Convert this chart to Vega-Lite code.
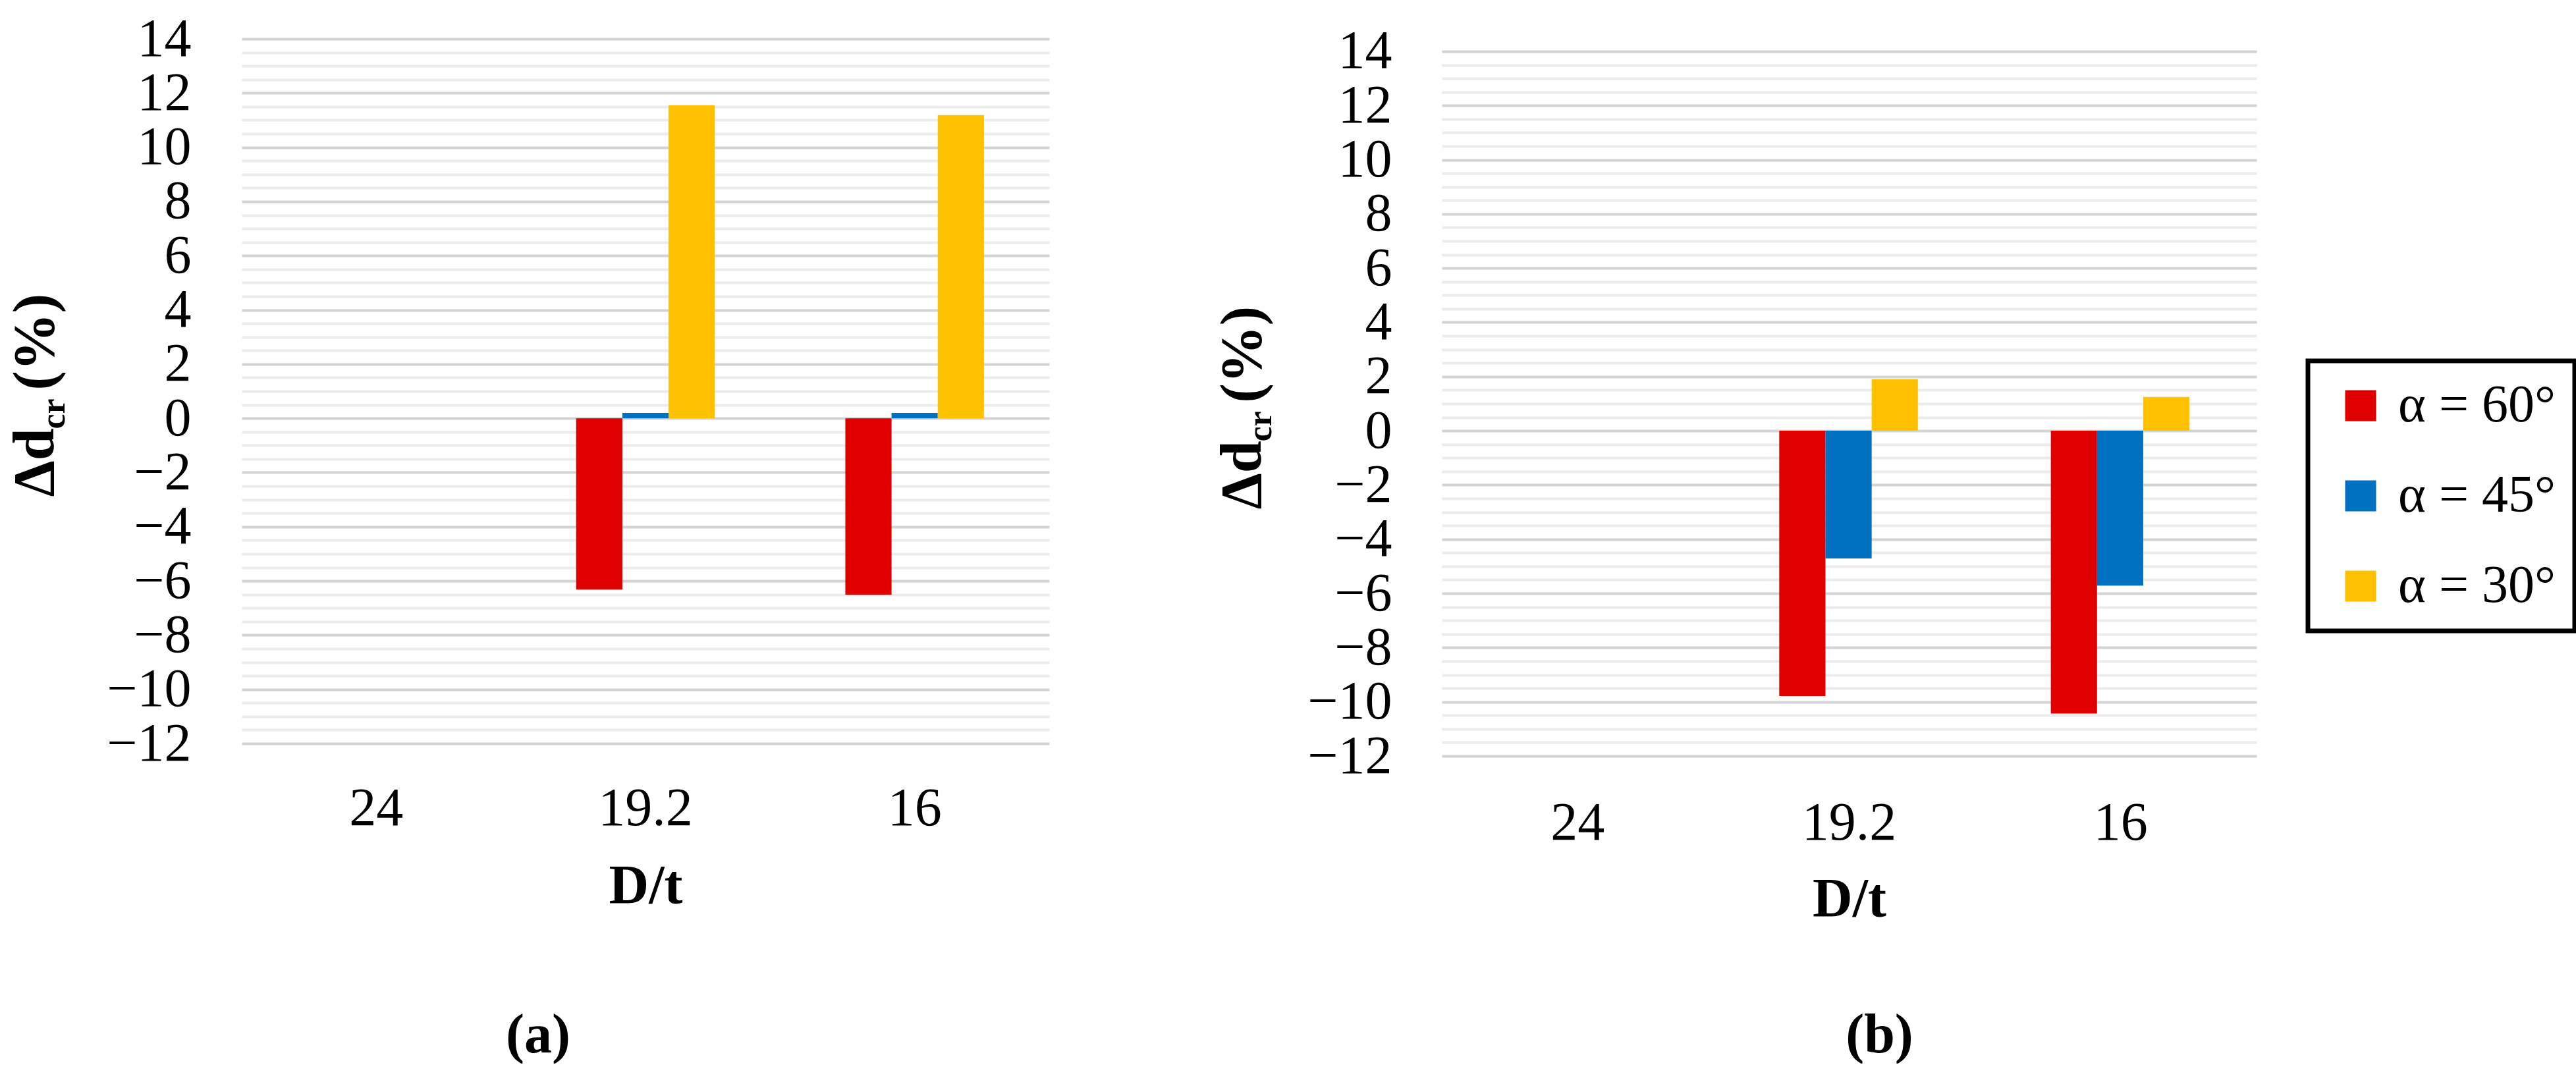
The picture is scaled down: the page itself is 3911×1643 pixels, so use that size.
{
  "$schema": "https://vega.github.io/schema/vega-lite/v6.json",
  "background": "white",
  "padding": {"left": 10, "top": 18, "right": 0, "bottom": 0},
  "config": {
    "font": "Liberation Serif",
    "view": {"stroke": null},
    "axis": {"labelFont": "Liberation Serif", "titleFont": "Liberation Serif", "labelColor": "#000", "titleColor": "#000", "domain": false, "ticks": false},
    "legend": {"labelFont": "Liberation Serif", "titleFont": "Liberation Serif"},
    "title": {"font": "Liberation Serif"}
  },
  "datasets": {
    "a": [
      {"Dt": "24", "alpha": "α = 60°", "value": 0},
      {"Dt": "24", "alpha": "α = 45°", "value": 0},
      {"Dt": "24", "alpha": "α = 30°", "value": 0},
      {"Dt": "19.2", "alpha": "α = 60°", "value": -6.32},
      {"Dt": "19.2", "alpha": "α = 45°", "value": 0.2},
      {"Dt": "19.2", "alpha": "α = 30°", "value": 11.55},
      {"Dt": "16", "alpha": "α = 60°", "value": -6.51},
      {"Dt": "16", "alpha": "α = 45°", "value": 0.2},
      {"Dt": "16", "alpha": "α = 30°", "value": 11.19}
    ],
    "b": [
      {"Dt": "24", "alpha": "α = 60°", "value": 0},
      {"Dt": "24", "alpha": "α = 45°", "value": 0},
      {"Dt": "24", "alpha": "α = 30°", "value": 0},
      {"Dt": "19.2", "alpha": "α = 60°", "value": -9.79},
      {"Dt": "19.2", "alpha": "α = 45°", "value": -4.71},
      {"Dt": "19.2", "alpha": "α = 30°", "value": 1.9},
      {"Dt": "16", "alpha": "α = 60°", "value": -10.43},
      {"Dt": "16", "alpha": "α = 45°", "value": -5.71},
      {"Dt": "16", "alpha": "α = 30°", "value": 1.25}
    ]
  },
  "spacing": 250,
  "resolve": {"scale": {"color": "independent"}, "legend": {"color": "independent"}},
  "hconcat": [
    {
      "width": 1226,
      "height": 1070,
      "data": {"name": "a"},
      "title": {"text": "(a)", "orient": "bottom", "frame": "group", "dx": -163, "offset": 144, "fontSize": 84, "fontWeight": "bold", "color": "#000"},
      "encoding": {
        "x": {
          "field": "Dt",
          "type": "nominal",
          "sort": ["24", "19.2", "16"],
          "scale": {"paddingInner": 0.485, "paddingOuter": 0.2425},
          "axis": {"labelAngle": 0, "labelFontSize": 82, "labelPadding": 58, "title": "D/t", "titleFontSize": 84, "titleFontWeight": "bold", "titlePadding": 37}
        }
      },
      "layer": [
        {
          "mark": {"type": "bar"},
          "encoding": {
            "xOffset": {"field": "alpha", "type": "nominal", "sort": ["α = 60°", "α = 45°", "α = 30°"]},
            "y": {
              "field": "value",
              "type": "quantitative",
              "scale": {"domain": [-12, 14], "nice": false, "zero": false},
              "axis": {
                "values": [-12,-11.5,-11,-10.5,-10,-9.5,-9,-8.5,-8,-7.5,-7,-6.5,-6,-5.5,-5,-4.5,-4,-3.5,-3,-2.5,-2,-1.5,-1,-0.5,0,0.5,1,1.5,2,2.5,3,3.5,4,4.5,5,5.5,6,6.5,7,7.5,8,8.5,9,9.5,10,10.5,11,11.5,12,12.5,13,13.5,14],
                "labelExpr": "datum.value % 2 === 0 ? format(datum.value, 'd') : ''",
                "labelFontSize": 82,
                "labelPadding": 77,
                "labelOverlap": false,
                "grid": true,
                "gridColor": {"condition": {"test": "datum.value % 2 === 0", "value": "#d4d4d4"}, "value": "#ececec"},
                "gridWidth": 4,
                "title": "Δd",
                "titleFontSize": 88,
                "titleFontWeight": "bold",
                "titleAngle": -90,
                "titleAlign": "left",
                "titleBaseline": "alphabetic",
                "titleX": -287,
                "titleY": 695
              }
            },
            "color": {
              "field": "alpha",
              "type": "nominal",
              "scale": {"domain": ["α = 60°", "α = 45°", "α = 30°"], "range": ["#E00000", "#0070C0", "#FFC000"]},
              "legend": null
            }
          }
        },
        {
          "mark": {"type": "bar", "opacity": 0},
          "encoding": {
            "y": {
              "field": "value",
              "type": "quantitative",
              "axis": {"orient": "left", "labels": false, "grid": false, "title": "cr", "titleFontSize": 52, "titleFontWeight": "bold", "titleAngle": -90, "titleAlign": "left", "titleBaseline": "alphabetic", "titleX": -270, "titleY": 592}
            }
          }
        },
        {
          "mark": {"type": "bar", "opacity": 0},
          "encoding": {
            "y": {
              "field": "value",
              "type": "quantitative",
              "axis": {"orient": "left", "labels": false, "grid": false, "title": "(%)", "titleFontSize": 88, "titleFontWeight": "bold", "titleAngle": -90, "titleAlign": "left", "titleBaseline": "alphabetic", "titleX": -287, "titleY": 533}
            }
          }
        }
      ],
      "resolve": {"axis": {"y": "independent"}}
    },
    {
      "width": 1237,
      "height": 1089,
      "data": {"name": "b"},
      "title": {"text": "(b)", "orient": "bottom", "frame": "group", "dx": 46, "offset": 124, "fontSize": 84, "fontWeight": "bold", "color": "#000"},
      "encoding": {
        "x": {
          "field": "Dt",
          "type": "nominal",
          "sort": ["24", "19.2", "16"],
          "scale": {"paddingInner": 0.485, "paddingOuter": 0.2425},
          "axis": {"labelAngle": 0, "labelFontSize": 82, "labelPadding": 61, "title": "D/t", "titleFontSize": 84, "titleFontWeight": "bold", "titlePadding": 35}
        }
      },
      "layer": [
        {
          "mark": {"type": "bar"},
          "encoding": {
            "xOffset": {"field": "alpha", "type": "nominal", "sort": ["α = 60°", "α = 45°", "α = 30°"]},
            "y": {
              "field": "value",
              "type": "quantitative",
              "scale": {"domain": [-12, 14.46], "nice": false, "zero": false},
              "axis": {
                "values": [-12,-11.5,-11,-10.5,-10,-9.5,-9,-8.5,-8,-7.5,-7,-6.5,-6,-5.5,-5,-4.5,-4,-3.5,-3,-2.5,-2,-1.5,-1,-0.5,0,0.5,1,1.5,2,2.5,3,3.5,4,4.5,5,5.5,6,6.5,7,7.5,8,8.5,9,9.5,10,10.5,11,11.5,12,12.5,13,13.5,14],
                "labelExpr": "datum.value % 2 === 0 ? format(datum.value, 'd') : ''",
                "labelFontSize": 82,
                "labelPadding": 76,
                "labelOverlap": false,
                "grid": true,
                "gridColor": {"condition": {"test": "datum.value % 2 === 0", "value": "#d4d4d4"}, "value": "#ececec"},
                "gridWidth": 4,
                "title": "Δd",
                "titleFontSize": 88,
                "titleFontWeight": "bold",
                "titleAngle": -90,
                "titleAlign": "left",
                "titleBaseline": "alphabetic",
                "titleX": -276,
                "titleY": 714
              }
            },
            "color": {
              "field": "alpha",
              "type": "nominal",
              "scale": {"domain": ["α = 60°", "α = 45°", "α = 30°"], "range": ["#E00000", "#0070C0", "#FFC000"]},
              "legend": {
                "orient": "none",
                "legendX": 1315,
                "legendY": 489,
                "title": null,
                "fillColor": "white",
                "strokeColor": "#000",
                "padding": 28,
                "symbolType": "square",
                "symbolSize": 2209,
                "symbolStrokeWidth": 0,
                "symbolOffset": 12,
                "labelFont": "Liberation Serif",
                "labelFontSize": 80,
                "labelColor": "#000",
                "labelOffset": 17,
                "labelLimit": 0,
                "rowPadding": 57,
                "encode": {"legend": {"update": {"strokeWidth": {"value": 7}}}}
              }
            }
          }
        },
        {
          "mark": {"type": "bar", "opacity": 0},
          "encoding": {
            "y": {
              "field": "value",
              "type": "quantitative",
              "axis": {"orient": "left", "labels": false, "grid": false, "title": "cr", "titleFontSize": 52, "titleFontWeight": "bold", "titleAngle": -90, "titleAlign": "left", "titleBaseline": "alphabetic", "titleX": -260, "titleY": 611}
            }
          }
        },
        {
          "mark": {"type": "bar", "opacity": 0},
          "encoding": {
            "y": {
              "field": "value",
              "type": "quantitative",
              "axis": {"orient": "left", "labels": false, "grid": false, "title": "(%)", "titleFontSize": 88, "titleFontWeight": "bold", "titleAngle": -90, "titleAlign": "left", "titleBaseline": "alphabetic", "titleX": -276, "titleY": 552}
            }
          }
        }
      ],
      "resolve": {"axis": {"y": "independent"}}
    }
  ]
}
